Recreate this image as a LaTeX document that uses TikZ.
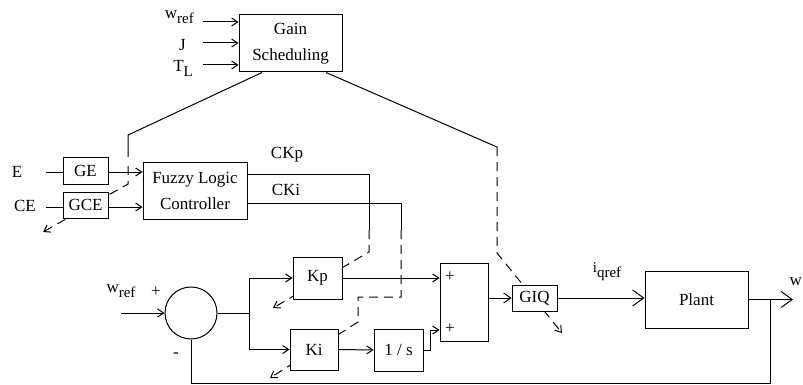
\documentclass[tikz,border=0pt]{standalone}
\usepackage{fontspec}
\setmainfont{Liberation Serif}
\usetikzlibrary{arrows.meta,calc}
\newcommand{\lowsub}[1]{{\fontsize{15}{15}\selectfont\raisebox{-5pt}{#1}}}
\begin{document}
\begin{tikzpicture}[x=1pt,y=-1pt,
  every node/.style={font=\fontsize{17}{26}\selectfont, inner sep=0pt},
  blk/.style={draw, fill=white, line width=1pt, align=center},
  ln/.style={line width=1pt},
  arr/.style={ln, -{Straight Barb[length=6pt,width=8pt]}},
  midarr/.style={ln, -{Straight Barb[length=7pt,width=10pt]}},
  bigarr/.style={ln, -{Straight Barb[length=11pt,width=16pt]}},
  dsh/.style={ln, dash pattern=on 9pt off 6pt},
  darr/.style={dsh, -{Straight Barb[length=6pt,width=8pt]}},
]
\useasboundingbox (0,0) rectangle (803,385);
% coordinates for bends and free ends
\coordinate (gsL) at (128,135);
\coordinate (gsLd) at (128,157);
\coordinate (gsLe) at (128,166);
\coordinate (gsLk) at (128,184);
\coordinate (gceTip) at (43,232);
\coordinate (gsR) at (497,147);
\coordinate (gsRk) at (497,253);
\coordinate (giqTip) at (562,333);
\coordinate (ckpC) at (369,174);
\coordinate (ckpD) at (369,230);
\coordinate (ckpK) at (369,252);
\coordinate (kpTip) at (273,308);
\coordinate (ckiC) at (401,203);
\coordinate (ckiD) at (401,230);
\coordinate (ckiK1) at (401,297);
\coordinate (ckiK2) at (358,297);
\coordinate (ckiK3) at (358,322);
\coordinate (kiTip) at (270,378);

% boxes
\node[blk, minimum width=103pt, minimum height=57pt] (gs) at (290.5,43.5) {Gain\\Scheduling};
\node[blk, minimum width=45pt, minimum height=27pt] (ge) at (85.5,170.5) {GE};
\node[blk, minimum width=45pt, minimum height=26pt] (gce) at (85.5,205) {GCE};
\node[blk, minimum width=104pt, minimum height=57pt] (flc) at (195,190.5) {Fuzzy Logic\\Controller};
\node[blk, minimum width=49pt, minimum height=42pt] (kp) at (317.5,278) {Kp};
\node[blk, minimum width=48pt, minimum height=41pt] (ki) at (314,349.5) {Ki};
\node[blk, minimum width=49pt, minimum height=42pt] (inv) at (398.5,350) {1 / s};
\node[blk, minimum width=48pt, minimum height=78pt] (sum) at (464,302) {};
\node[blk, minimum width=45pt, minimum height=26pt] (giq) at (534.5,298) {GIQ};
\node[blk, minimum width=103pt, minimum height=57pt] (plant) at (696.5,299.5) {Plant};
\node[draw, line width=1pt, circle, minimum size=52pt] (circ) at (191,313) {};

% gain-scheduling links
\draw[ln] ([xshift=-28.5pt]gs.south) -- (gsL) -- (gsLd);
\draw[darr] (gsLe) -- (gsLk) -- (gceTip);
\draw[ln] ([xshift=35.5pt]gs.south) -- (gsR);
\draw[darr] (gsR) -- (gsRk) -- (giqTip);
\draw[ln] (flc.east |- ckpC) -- (ckpC) -- (ckpD);
\draw[darr] (ckpD) -- (ckpK) -- (kpTip);
\draw[ln] (flc.east |- ckiC) -- (ckiC) -- (ckiD);
\draw[darr] (ckiD) -- (ckiK1) -- (ckiK2) -- (ckiK3) -- (kiTip);

% redraw boxes over the dashed lines
\node[blk, minimum width=45pt, minimum height=26pt] at (gce) {GCE};
\node[blk, minimum width=49pt, minimum height=42pt] at (kp) {Kp};
\node[blk, minimum width=48pt, minimum height=41pt] at (ki) {Ki};
\node[blk, minimum width=45pt, minimum height=26pt] at (giq) {GIQ};

% gain scheduling inputs
\coordinate (in1) at (203,22);
\coordinate (in2) at (203,43);
\coordinate (in3) at (203,65);
\draw[arr] (in1) -- (in1 -| gs.west);
\draw[arr] (in2) -- (in2 -| gs.west);
\draw[arr] (in3) -- (in3 -| gs.west);
\node[anchor=base east] (lw) at (194,19) {w\lowsub{ref}};
\node[anchor=base] (lj) at (182.5,51) {J};
\node[anchor=base east] (lt) at (193,72) {T\lowsub{L}};

% E / CE
\node (le) at (17,172) {E};
\node (lce) at (25,206) {CE};
\coordinate (eIn) at (46,172);
\coordinate (ceIn) at (46,207);
\draw[ln] (eIn) -- (eIn -| ge.west);
\draw[ln] (ceIn) -- (ceIn -| gce.west);
\draw[arr] (ge.east |- eIn) -- (eIn -| flc.west);
\draw[arr] (gce.east |- ceIn) -- (ceIn -| flc.west);
\node (lckp) at (287,155) {CKp};
\node (lcki) at (286,190) {CKi};

% main loop
\coordinate (wIn) at (121,313);
\draw[arr] (wIn) -- (circ.west);
\node (lwref) at (121,291) {w\lowsub{ref}};
\node (lplus) at (156,292) {+};
\node (lminus) at (176,355) {-};
\coordinate (br) at (249,313);
\draw[ln] (circ.east) -- (br);
\draw[arr] (br) |- (kp.west);
\draw[arr] (br) |- (ki.west);
\draw[arr] (kp.east) -- (kp.east -| sum.west);
\draw[arr] (ki.east) -- (inv.west);
\coordinate (sumB) at ($(sum.west)+(0,28)$);
\draw[arr] (inv.east) -- ++(7,0) |- (sumB);
\node (sp1) at (450,277) {+};
\node (sp2) at (450,329) {+};
\draw[midarr] (sum.east |- giq.west) -- (giq.west);
\draw[bigarr] (giq.east) -- (giq.east -| plant.west);
\node (liq) at (607,272) {\fontsize{15}{15}\selectfont i\raisebox{-5pt}{qref}};
\coordinate (out) at (793,299.5);
\draw[bigarr] (plant.east) -- (out);
\node[anchor=base east] (lout) at (802,285) {w};
\coordinate (fb) at (770,299.5);
\coordinate (fbB) at (770,383);
\draw[ln] (fb) -- (fbB) -| (circ.south);
\end{tikzpicture}
\end{document}
